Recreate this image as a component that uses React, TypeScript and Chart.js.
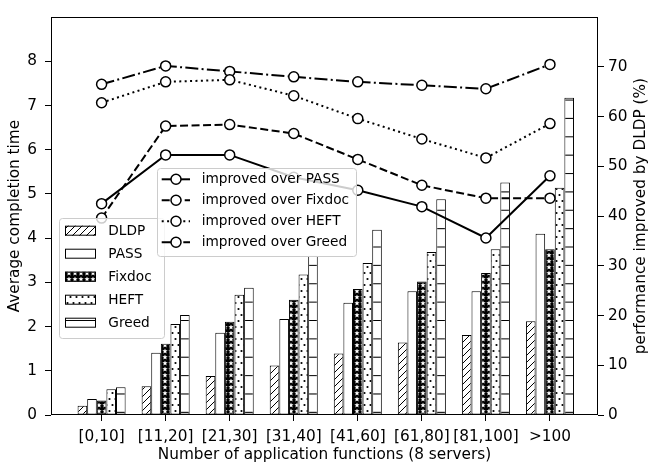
import { useEffect, useRef } from 'react';
import { Chart, registerables } from 'chart.js';

Chart.register(...registerables);

// Application-function buckets on the x axis
const categories = ['[0,10]', '[11,20]', '[21,30]', '[31,40]', '[41,60]', '[61,80]', '[81,100]', '>100'];

// Average completion time per scheduler (left axis)
const dldp = [0.21, 0.65, 0.88, 1.12, 1.39, 1.64, 1.81, 2.12];
const pass = [0.36, 1.41, 1.86, 2.17, 2.54, 2.8, 2.8, 4.1];
const fixdoc = [0.33, 1.61, 2.11, 2.61, 2.85, 3.02, 3.21, 3.75];
const heft = [0.58, 2.06, 2.72, 3.18, 3.44, 3.69, 3.75, 5.14];
const greed = [0.63, 2.26, 2.88, 3.6, 4.19, 4.88, 5.26, 7.18];

// Improvement of DLDP over each baseline in percent (right axis)
const overPass = [42.5, 52.3, 52.3, 47.8, 45.2, 41.9, 35.6, 48.1];
const overFixdoc = [39.6, 58.1, 58.4, 56.6, 51.4, 46.2, 43.6, 43.6];
const overHeft = [62.8, 67.0, 67.4, 64.2, 59.6, 55.5, 51.7, 58.6];
const overGreed = [66.5, 70.2, 69.1, 68.0, 67.0, 66.3, 65.6, 70.5];

// Tick values
const leftTicks = [0, 1, 2, 3, 4, 5, 6, 7, 8];
const rightTicks = [0, 10, 20, 30, 40, 50, 60, 70];

const FAMILY = 'DejaVu Sans';
const AXIS_FONT = { family: FAMILY, size: 15.3 };
const LEGEND_FONT = `13.7px "${FAMILY}"`;

function tile(w: number, h: number, draw: (g: CanvasRenderingContext2D) => void) {
  const c = document.createElement('canvas');
  c.width = w;
  c.height = h;
  const g = c.getContext('2d')!;
  draw(g);
  return c;
}

function star(g: CanvasRenderingContext2D, cx: number, cy: number, ro: number, ri: number) {
  g.beginPath();
  for (let i = 0; i < 10; i++) {
    const r = i % 2 === 0 ? ro : ri;
    const a = -Math.PI / 2 + (i * Math.PI) / 5;
    const x = cx + r * Math.cos(a);
    const y = cy + r * Math.sin(a);
    if (i === 0) g.moveTo(x, y);
    else g.lineTo(x, y);
  }
  g.closePath();
  g.fill();
}

function makePatterns(ctx: CanvasRenderingContext2D) {
  const diag = ctx.createPattern(
    tile(7, 7, (g) => {
      g.fillStyle = '#fff';
      g.fillRect(0, 0, 7, 7);
      g.strokeStyle = '#000';
      g.lineWidth = 1;
      g.beginPath();
      g.moveTo(0, 7);
      g.lineTo(7, 0);
      g.moveTo(-2, 2);
      g.lineTo(2, -2);
      g.moveTo(5, 9);
      g.lineTo(9, 5);
      g.stroke();
    }),
    'repeat'
  )!;
  const stars = ctx.createPattern(
    tile(6, 6, (g) => {
      g.fillStyle = '#000';
      g.fillRect(0, 0, 6, 6);
      g.fillStyle = '#fff';
      star(g, 3, 3.2, 2.8, 1.2);
    }),
    'repeat'
  )!;
  const dots = ctx.createPattern(
    tile(6, 12, (g) => {
      g.fillStyle = '#fff';
      g.fillRect(0, 0, 6, 12);
      g.fillStyle = '#000';
      g.beginPath();
      g.arc(1.5, 3, 1.1, 0, Math.PI * 2);
      g.arc(4.5, 9, 1.1, 0, Math.PI * 2);
      g.fill();
    }),
    'repeat'
  )!;
  const hlines = ctx.createPattern(
    tile(4, 18, (g) => {
      g.fillStyle = '#fff';
      g.fillRect(0, 0, 4, 18);
      g.fillStyle = '#000';
      g.fillRect(0, 0, 4, 1);
    }),
    'repeat'
  )!;
  const k = 18.37 / 18;
  hlines.setTransform(new DOMMatrix([1, 0, 0, k, 0, 412.3 - 18.37 * 22 - 0.5]));
  return { diag, stars, dots, hlines };
}

export default function App() {
  const ref = useRef<HTMLCanvasElement | null>(null);

  useEffect(() => {
    const canvas = ref.current!;
    const ctx = canvas.getContext('2d')!;
    const p = makePatterns(ctx);

    const barSeries = [
      { label: 'DLDP', data: dldp, fill: p.diag },
      { label: 'PASS', data: pass, fill: '#fff' },
      { label: 'Fixdoc', data: fixdoc, fill: p.stars },
      { label: 'HEFT', data: heft, fill: p.dots },
      { label: 'Greed', data: greed, fill: p.hlines },
    ];
    const lineSeries = [
      { label: 'improved over PASS', data: overPass, dash: [] as number[] },
      { label: 'improved over Fixdoc', data: overFixdoc, dash: [8, 3.5] },
      { label: 'improved over HEFT', data: overHeft, dash: [2, 3.4] },
      { label: 'improved over Greed', data: overGreed, dash: [13, 3.3, 2, 3.3] },
    ];

    const overlay = {
      id: 'overlay',
      afterDraw(chart: any) {
        const c: CanvasRenderingContext2D = chart.ctx;
        const a = chart.chartArea;
        c.save();

        // axes frame
        c.strokeStyle = '#000';
        c.lineWidth = 1;
        c.setLineDash([]);
        c.strokeRect(Math.round(a.left) + 0.5, Math.round(a.top) + 0.5, Math.round(a.right - a.left) - 1, Math.round(a.bottom - a.top) - 1);

        // right axis title, reading bottom to top
        c.save();
        c.translate(641.5, (a.top + a.bottom) / 2);
        c.rotate(-Math.PI / 2);
        c.fillStyle = '#000';
        c.font = `15.3px "${FAMILY}"`;
        c.textAlign = 'center';
        c.textBaseline = 'middle';
        c.fillText('performance improved by DLDP (%)', 0, 0);
        c.restore();

        const box = (x: number, y: number, w: number, h: number) => {
          c.beginPath();
          c.roundRect(x + 0.5, y + 0.5, w, h, 3);
          c.fillStyle = 'rgba(255,255,255,0.8)';
          c.fill();
          c.strokeStyle = '#cccccc';
          c.lineWidth = 1;
          c.stroke();
        };

        // bar legend
        box(59, 218, 105, 120);
        c.font = LEGEND_FONT;
        c.textAlign = 'left';
        c.textBaseline = 'middle';
        barSeries.forEach((s, i) => {
          const y = 230.7 + i * 23;
          c.fillStyle = s.fill as any;
          c.fillRect(65, y - 5, 30.7, 10);
          c.strokeStyle = '#000';
          c.lineWidth = 1;
          c.strokeRect(65.5, y - 4.5, 30, 9);
          c.fillStyle = '#000';
          c.fillText(s.label, 108.3, y + 0.5);
        });

        // line legend
        box(157, 168, 199, 88);
        lineSeries.forEach((s, i) => {
          const y = 179.3 + i * 21;
          c.strokeStyle = '#000';
          c.lineWidth = 2;
          c.setLineDash(s.dash);
          c.beginPath();
          c.moveTo(161.7, y);
          c.lineTo(190, y);
          c.stroke();
          c.setLineDash([]);
          c.beginPath();
          c.arc(176, y, 5, 0, Math.PI * 2);
          c.fillStyle = '#fff';
          c.fill();
          c.lineWidth = 1.5;
          c.stroke();
          c.fillStyle = '#000';
          c.fillText(s.label, 201.7, y + 0.5);
        });

        c.restore();
      },
    };

    const grid = { display: true, drawOnChartArea: false, drawTicks: true, tickLength: 6, color: '#000', lineWidth: 1, offset: false };

    const chart = new Chart(canvas, {
      type: 'bar',
      data: {
        datasets: [
          ...lineSeries.map((s) => ({
            type: 'line' as const,
            label: s.label,
            data: s.data.map((v, i) => ({ x: i, y: v })),
            yAxisID: 'y1',
            xAxisID: 'x',
            order: 0,
            borderColor: '#000',
            borderWidth: 2,
            borderDash: s.dash,
            tension: 0,
            fill: false,
            pointRadius: 5,
            pointHoverRadius: 5,
            pointBorderWidth: 1.5,
            pointBorderColor: '#000',
            pointBackgroundColor: '#fff',
          })),
          ...barSeries.map((s) => ({
            type: 'bar' as const,
            label: s.label,
            data: s.data.map((v, i) => ({ x: i, y: v })),
            yAxisID: 'y',
            xAxisID: 'x',
            order: 1,
            backgroundColor: s.fill as any,
            borderColor: '#000',
            borderWidth: 1,
            borderSkipped: false,
            categoryPercentage: 0.75,
            barPercentage: 1.0,
          })),
        ] as any,
      },
      options: {
        animation: false,
        responsive: false,
        devicePixelRatio: 1,
        layout: { padding: { top: 7, left: 0, right: 0, bottom: 0 } },
        plugins: { legend: { display: false }, tooltip: { enabled: false } },
        scales: {
          x: {
            type: 'linear',
            min: -0.79,
            max: 7.75,
            offset: false,
            afterBuildTicks: (s: any) => {
              s.ticks = categories.map((_, i) => ({ value: i }));
            },
            afterFit: (s: any) => {
              s.height = 51;
            },
            ticks: {
              callback: (v: any) => categories[Number(v)] ?? '',
              font: AXIS_FONT,
              color: '#000',
              padding: 6.5,
              maxRotation: 0,
              autoSkip: false,
            },
            grid,
            border: { display: false },
            title: {
              display: true,
              text: 'Number of application functions (8 servers)',
              font: AXIS_FONT,
              color: '#000',
              padding: { top: 0, bottom: 1.8 },
            },
          },
          y: {
            type: 'linear',
            position: 'left',
            min: 0,
            max: 9,
            afterBuildTicks: (s: any) => {
              s.ticks = leftTicks.map((v) => ({ value: v }));
            },
            afterFit: (s: any) => {
              s.width = 51;
            },
            ticks: { font: AXIS_FONT, color: '#000', padding: 8 },
            grid,
            border: { display: false },
            title: {
              display: true,
              text: 'Average completion time',
              font: AXIS_FONT,
              color: '#000',
              padding: { top: 5.8, bottom: 0 },
            },
          },
          y1: {
            type: 'linear',
            position: 'right',
            min: 0,
            max: 80,
            afterBuildTicks: (s: any) => {
              s.ticks = rightTicks.map((v) => ({ value: v }));
            },
            afterFit: (s: any) => {
              s.width = 53;
            },
            ticks: { font: AXIS_FONT, color: '#000', padding: 4 },
            grid,
            border: { display: false },
          },
        },
      } as any,
      plugins: [overlay],
    });

    return () => chart.destroy();
  }, []);

  return (
    <div style={{ position: 'fixed', left: 0, top: 0, width: 651, height: 466, background: '#fff' }}>
      <canvas ref={ref} width={651} height={466} style={{ width: 651, height: 466, display: 'block' }} />
    </div>
  );
}
